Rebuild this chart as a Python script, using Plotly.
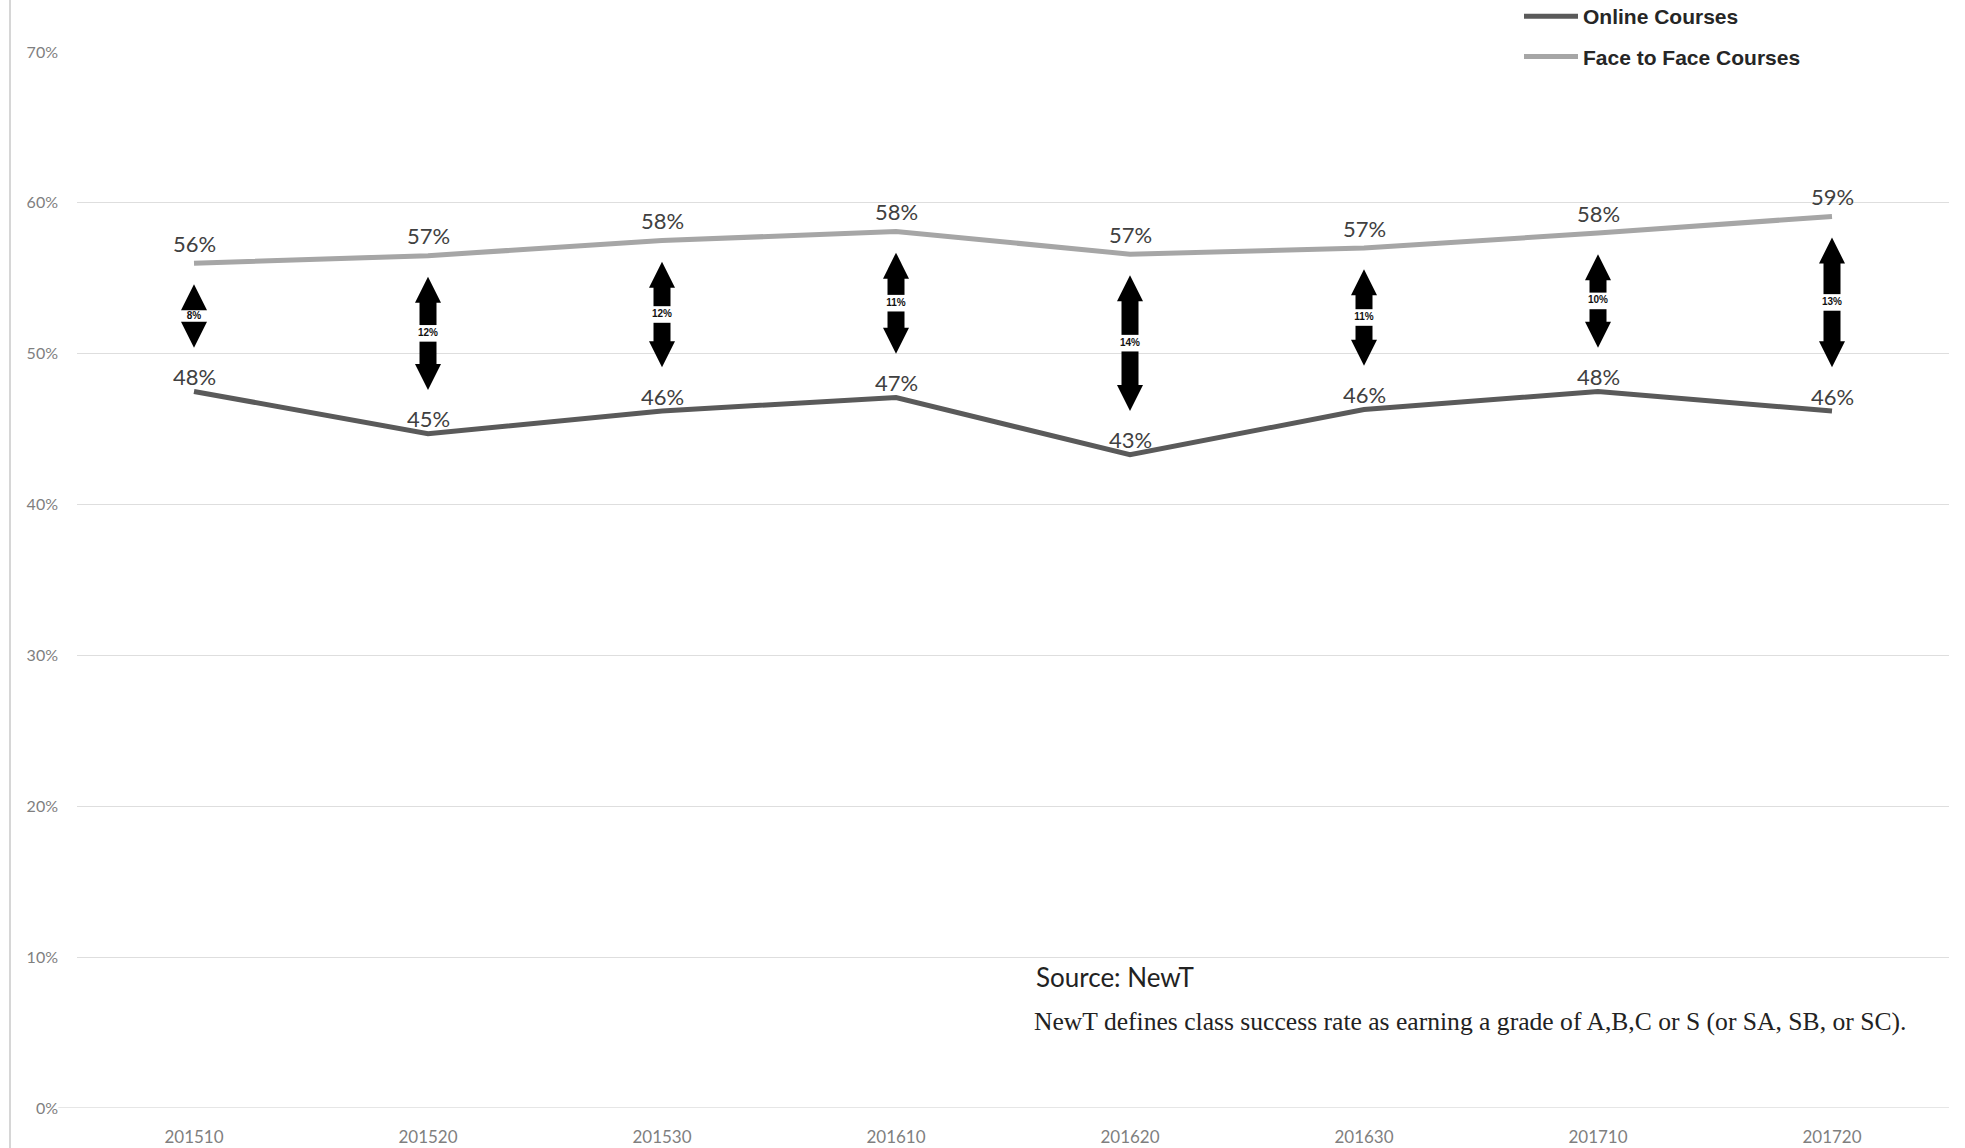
import plotly.graph_objects as go

terms = ["201510", "201520", "201530", "201610", "201620", "201630", "201710", "201720"]
online = [47.5, 44.7, 46.2, 47.1, 43.3, 46.3, 47.5, 46.2]
face = [56.0, 56.5, 57.5, 58.1, 56.6, 57.0, 58.0, 59.1]
online_labels = ["48%", "45%", "46%", "47%", "43%", "46%", "48%", "46%"]
face_labels = ["56%", "57%", "58%", "58%", "57%", "57%", "58%", "59%"]
gap_labels = ["8%", "12%", "12%", "11%", "14%", "11%", "10%", "13%"]
y_ticks = [0, 10, 20, 30, 40, 50, 60, 70]
y_tick_text = ["0%", "10%", "20%", "30%", "40%", "50%", "60%", "70%"]

W, H = 1965, 1148
ML, MR, MT, MB = 77, 16, 52, 40
PW, PH = W - ML - MR, H - MT - MB

fig = go.Figure()

fig.add_trace(go.Scatter(
    x=terms, y=online, mode="lines", name="Online Courses",
    line=dict(color="#5a5a5a", width=5), legendgroup="a", cliponaxis=False))
fig.add_trace(go.Scatter(
    x=terms, y=face, mode="lines", name="Face to Face Courses",
    line=dict(color="#a6a6a6", width=5), legendgroup="b", cliponaxis=False))

# gap arrows
tops = [f - 1.4 for f in face]
bots = [o + 2.9 for o in online]
mids = [(t + b) / 2 for t, b in zip(tops, bots)]
for i, t in enumerate(terms):
    fig.add_trace(go.Scatter(x=[t, t], y=[tops[i] - 1.5, mids[i] + 0.55], mode="lines",
                             line=dict(color="black", width=17), showlegend=False, hoverinfo="skip"))
    fig.add_trace(go.Scatter(x=[t, t], y=[bots[i] + 1.5, mids[i] - 0.55], mode="lines",
                             line=dict(color="black", width=17), showlegend=False, hoverinfo="skip"))
fig.add_trace(go.Scatter(x=terms, y=tops, mode="markers", showlegend=False, hoverinfo="skip",
                         marker=dict(symbol="arrow-up", size=26, color="black")))
fig.add_trace(go.Scatter(x=terms, y=bots, mode="markers", showlegend=False, hoverinfo="skip",
                         marker=dict(symbol="arrow-down", size=26, color="black")))
fig.add_trace(go.Scatter(x=terms, y=mids, mode="text", text=gap_labels, showlegend=False,
                         hoverinfo="skip",
                         textfont=dict(family="Liberation Sans", size=10, color="#111111", weight="bold")))

annotations = []
for i, (v, lab) in enumerate(zip(face, face_labels)):
    annotations.append(dict(x=i, y=v, xref="x", yref="y", text=lab, showarrow=False,
                            xanchor="center", yanchor="middle", yshift=20,
                            font=dict(family="Lato", size=22, color="#404040")))
for i, (v, lab) in enumerate(zip(online, online_labels)):
    annotations.append(dict(x=i, y=v, xref="x", yref="y", text=lab, showarrow=False,
                            xanchor="center", yanchor="middle", yshift=15,
                            font=dict(family="Lato", size=22, color="#404040")))
annotations += [
    dict(text="Source: NewT", xref="paper", yref="paper", x=(1034 - ML) / PW,
         y=(1108 - 977) / PH, xanchor="left", yanchor="middle", showarrow=False,
         font=dict(family="Lato", size=26, color="#222222")),
    dict(text="NewT defines class success rate as earning a grade of A,B,C or S (or SA, SB, or SC).",
         xref="paper", yref="paper", x=(1032 - ML) / PW, y=(1108 - 1021) / PH,
         xanchor="left", yanchor="middle", showarrow=False,
         font=dict(family="Liberation Serif", size=25.6, color="#222222")),
]

fig.update_layout(
    width=W, height=H,
    margin=dict(l=ML, r=MR, t=MT, b=MB, autoexpand=False),
    paper_bgcolor="white", plot_bgcolor="white",
    showlegend=True,
    legend=dict(x=(1519 - ML) / PW, xanchor="left", y=1 + 56 / PH, yanchor="top",
                font=dict(family="Liberation Sans", size=21, color="#262626", weight="bold"),
                tracegroupgap=10, traceorder="grouped", bgcolor="rgba(0,0,0,0)", itemwidth=54),
    xaxis=dict(type="category", range=[-0.5, 7.5], showgrid=False, showline=False,
               zeroline=False, tickfont=dict(family="Lato", size=17, color="#7f7f7f"),
               ticklabelstandoff=17, ticks="", automargin=False),
    yaxis=dict(range=[0, 70], tickvals=y_ticks, ticktext=y_tick_text,
               showgrid=True, gridcolor="#dedede", gridwidth=1, zeroline=False,
               showline=False, tickfont=dict(family="Lato", size=16, color="#7f7f7f"),
               ticklabelstandoff=18, automargin=False),
    shapes=[dict(type="line", xref="paper", yref="paper", x0=-(ML - 10) / PW, x1=-(ML - 10) / PW,
                 y0=-MB / PH, y1=1 + MT / PH, line=dict(color="#d6d6d6", width=2)),
            dict(type="line", xref="paper", yref="y", x0=-0.01, x1=1, y0=0, y1=0,
                 line=dict(color="#dedede", width=1.5))],
    annotations=annotations,
)

fig.write_html("out.html")
